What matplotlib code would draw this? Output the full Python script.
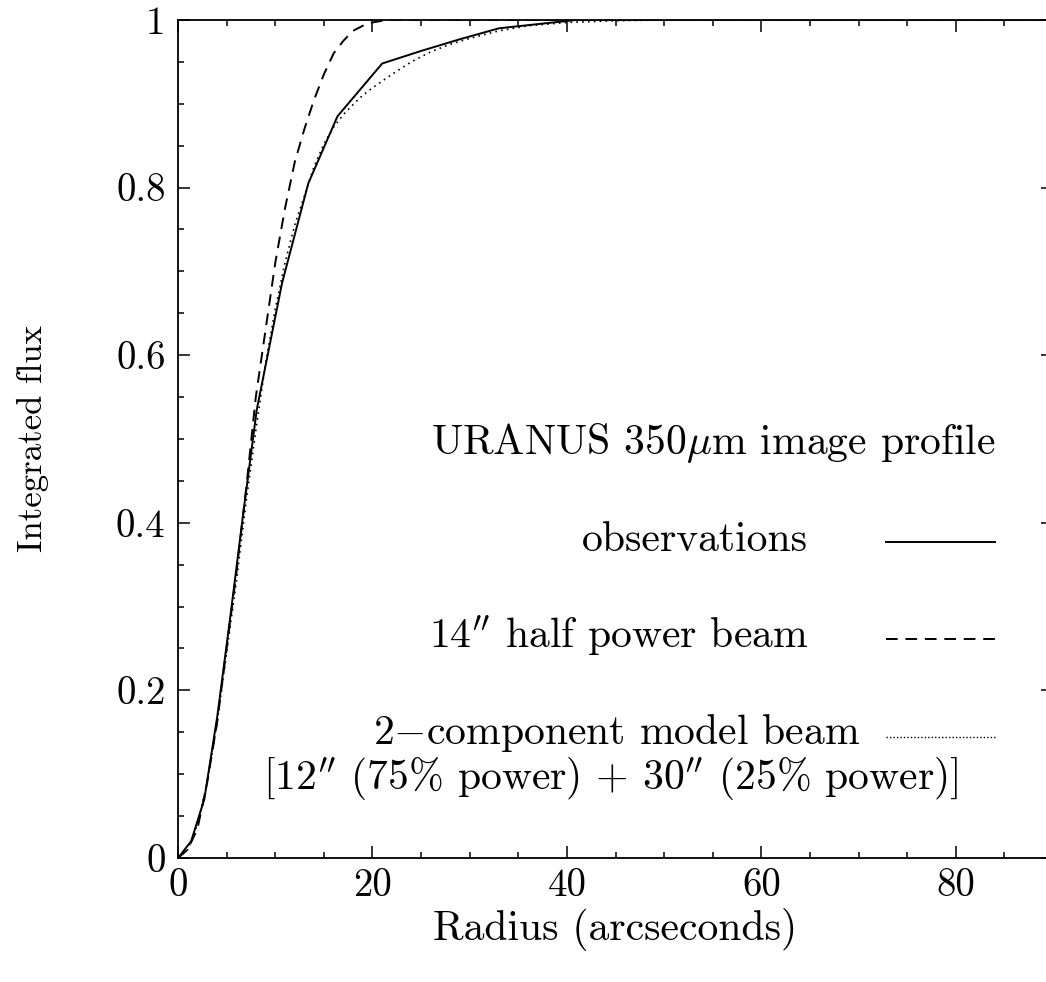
import matplotlib
matplotlib.use("Agg")
import matplotlib.pyplot as plt
from matplotlib.ticker import MultipleLocator, FuncFormatter

plt.rcParams['font.family'] = ['cmr10', 'DejaVu Serif']
plt.rcParams['mathtext.fontset'] = 'cm'
plt.rcParams['axes.unicode_minus'] = False
plt.rcParams['axes.formatter.use_mathtext'] = True

# observed profile (solid)
obs_r = [0, 1.35, 2.7, 4.05, 5.4, 6.75, 8.1, 10.7, 13.4, 16.4, 21.0, 25.0, 29.0, 33.0, 41.0, 90.0]
obs_f = [0, 0.02, 0.07, 0.17, 0.29, 0.415, 0.535, 0.686, 0.805, 0.885, 0.948, 0.963, 0.977,
         0.99, 1.0, 1.0]

# 14" half power beam (dashed)
hpb_r = [0, 1, 2, 3, 4, 5, 6, 7, 8, 9, 10, 11, 12, 13, 14, 15, 16, 17, 18, 19, 20, 21, 22, 90]
hpb_f = [0, 0.01, 0.035, 0.09, 0.16, 0.25, 0.34, 0.44, 0.55, 0.63, 0.71, 0.775, 0.83, 0.87,
         0.905, 0.935, 0.96, 0.975, 0.987, 0.993, 0.997, 0.999, 1.0, 1.0]

# 2-component model beam (dotted)
mod_r = [0, 1, 2, 3, 4, 5, 6, 7, 8, 9, 10, 11, 12, 13, 14, 15, 16, 17, 18, 19, 20, 21, 22,
         24, 26, 28, 30, 33, 36, 40, 45, 50, 90]
mod_f = [0, 0.01, 0.04, 0.09, 0.16, 0.245, 0.33, 0.425, 0.51, 0.59, 0.655, 0.71, 0.755, 0.79,
         0.825, 0.852, 0.872, 0.887, 0.899, 0.91, 0.919, 0.927, 0.935, 0.95, 0.962, 0.971,
         0.978, 0.987, 0.993, 0.997, 0.999, 1.0, 1.0]

fs = 30

fig = plt.figure(figsize=(10.46, 9.82), dpi=100)
ax = fig.add_axes([0.1702, 0.1263, 0.8365, 0.8534])

ax.plot(obs_r, obs_f, color='black', lw=1.4, ls='-')
ax.plot(hpb_r, hpb_f, color='black', lw=1.4, dashes=(6, 4))
ax.plot(mod_r, mod_f, color='black', lw=1.2, ls=(0, (1, 2.5)))

ax.set_xlim(0, 90)
ax.set_ylim(0, 1)
ax.xaxis.set_major_locator(MultipleLocator(20))
ax.xaxis.set_minor_locator(MultipleLocator(5))
ax.yaxis.set_major_locator(MultipleLocator(0.2))
ax.yaxis.set_minor_locator(MultipleLocator(0.05))
fmt = FuncFormatter(lambda v, p: '%g' % round(v, 3))
ax.xaxis.set_major_formatter(fmt)
ax.yaxis.set_major_formatter(fmt)
ax.tick_params(which='both', direction='in', top=True, right=True, width=1.1,
               labelsize=28, color='black')
ax.tick_params(which='major', length=8.5, pad=9)
ax.tick_params(axis='x', which='major', pad=7)
ax.tick_params(which='minor', length=4.3)
for s in ax.spines.values():
    s.set_linewidth(1.3)

ax.set_xlabel('Radius (arcseconds)', fontsize=fs, labelpad=3)
ax.set_ylabel('Integrated flux', fontsize=25, labelpad=48)

# legend drawn by hand: text on the left, line sample on the right
x0, x1 = 0.809, 0.934
ax.text(0.934, 0.482, r'URANUS 350$\mu$m image profile', fontsize=fs, ha='right', va='baseline',
        transform=ax.transAxes)
ax.text(0.720, 0.366, 'observations', fontsize=fs, ha='right', va='baseline',
        transform=ax.transAxes)
ax.plot([x0, x1], [0.377, 0.377], color='black', lw=1.4, transform=ax.transAxes)
ax.text(0.720, 0.250, r'14$^{\prime\prime}$ half power beam', fontsize=fs, ha='right',
        va='baseline', transform=ax.transAxes)
ax.plot([x0, x1], [0.261, 0.261], color='black', lw=1.4, dashes=(6, 4), transform=ax.transAxes)
ax.text(0.779, 0.136, r'2$-$component model beam', fontsize=fs, ha='right', va='baseline',
        transform=ax.transAxes)
ax.plot([x0, x1], [0.144, 0.144], color='black', lw=1.0, ls=(0, (1, 1.5)),
        transform=ax.transAxes)
ax.text(0.892, 0.081, r'[12$^{\prime\prime}$ (75% power) + 30$^{\prime\prime}$ (25% power)]',
        fontsize=fs, ha='right', va='baseline', transform=ax.transAxes)

fig.savefig('out.png', dpi=100)
